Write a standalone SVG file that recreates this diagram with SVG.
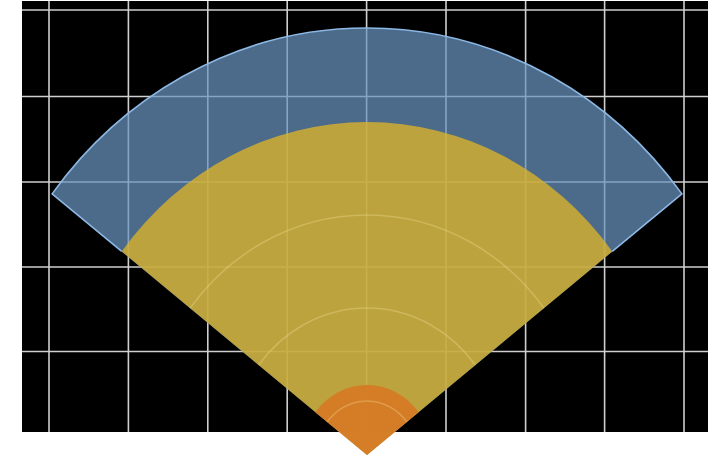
<svg xmlns="http://www.w3.org/2000/svg" width="710" height="458" viewBox="0 0 710 458">
  <style>
    .grid line { stroke: #cfcfcf; stroke-width: 1.6; }
    .ring { fill: none; stroke: #fff3b0; stroke-opacity: 0.26; stroke-width: 1.6; }
  </style>
  <rect x="0" y="0" width="710" height="458" fill="#ffffff"/>
  <g id="background">
    <rect x="22" y="1" width="686" height="431" fill="#000000"/>
  </g>
  <g id="grid" class="grid">
    <line x1="49" y1="1" x2="49" y2="432"/>
    <line x1="128.4" y1="1" x2="128.4" y2="432"/>
    <line x1="207.8" y1="1" x2="207.8" y2="432"/>
    <line x1="287.2" y1="1" x2="287.2" y2="432"/>
    <line x1="366.6" y1="1" x2="366.6" y2="432"/>
    <line x1="446" y1="1" x2="446" y2="432"/>
    <line x1="525.6" y1="1" x2="525.6" y2="432"/>
    <line x1="604.6" y1="1" x2="604.6" y2="432"/>
    <line x1="684" y1="1" x2="684" y2="432"/>
    <line x1="22" y1="10" x2="708" y2="10"/>
    <line x1="22" y1="96.5" x2="708" y2="96.5"/>
    <line x1="22" y1="182" x2="708" y2="182"/>
    <line x1="22" y1="267" x2="708" y2="267"/>
    <line x1="22" y1="351.5" x2="708" y2="351.5"/>
  </g>
  <g id="outer-sector">
    <path d="M367,455 L52.1,193.9 A398,427 0 0 1 681.9,193.9 Z" fill="#6994c0" fill-opacity="0.72"/>
    <path d="M121.7,251.4 L52.1,193.9 A398,427 0 0 1 681.9,193.9 L612.3,251.4" fill="none" stroke="#8cb8e4" stroke-width="1.6"/>
  </g>
  <g id="middle-sector">
    <path d="M367,455 L121.7,251.4 A310,333 0 0 1 612.3,251.4 Z" fill="#dab12b" fill-opacity="0.8"/>
    <path class="ring" d="M190,308.2 A223.7,240 0 0 1 544,308.2"/>
    <path class="ring" d="M258.6,365.1 A137,147 0 0 1 475.4,365.1"/>
  </g>
  <g id="inner-sector">
    <path d="M367,455 L315.4,412.2 A65.2,70 0 0 1 418.6,412.2 Z" fill="#d67a24" fill-opacity="0.92"/>
    <path class="ring" d="M327.2,422 A50.3,54 0 0 1 406.8,422"/>
  </g>
</svg>
